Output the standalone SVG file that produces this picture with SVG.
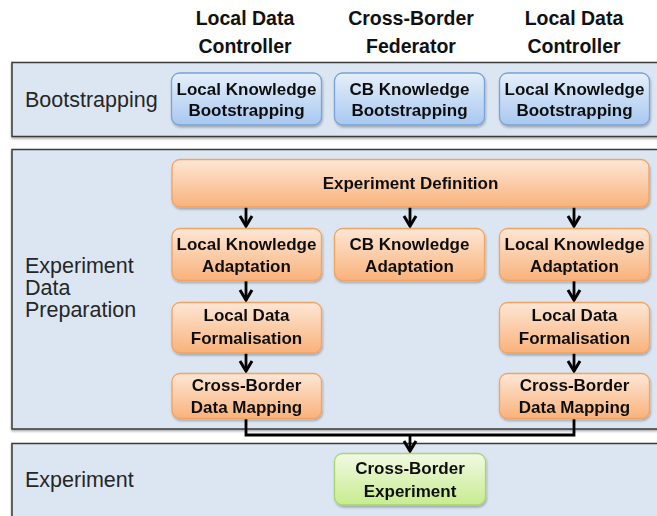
<svg xmlns="http://www.w3.org/2000/svg" width="657" height="516" viewBox="0 0 657 516">
  <defs>
    <linearGradient id="gBlue" x1="0" y1="0" x2="0" y2="1">
      <stop offset="0" stop-color="#e6effb"/>
      <stop offset="1" stop-color="#a8c8f0"/>
    </linearGradient>
    <linearGradient id="gOrange" x1="0" y1="0" x2="0" y2="1">
      <stop offset="0" stop-color="#fde7d6"/>
      <stop offset="1" stop-color="#f9b27b"/>
    </linearGradient>
    <linearGradient id="gGreen" x1="0" y1="0" x2="0" y2="1">
      <stop offset="0" stop-color="#f1f9e3"/>
      <stop offset="1" stop-color="#c7ec8e"/>
    </linearGradient>
    <filter id="shadow" x="-10%" y="-20%" width="120%" height="150%">
      <feDropShadow dx="0.8" dy="1.8" stdDeviation="1.2" flood-color="#000" flood-opacity="0.28"/>
    </filter>
    <filter id="bandShadow" x="-5%" y="-10%" width="110%" height="130%">
      <feDropShadow dx="0" dy="1.5" stdDeviation="0.8" flood-color="#000" flood-opacity="0.35"/>
    </filter>
    <marker id="arrow" markerUnits="userSpaceOnUse" viewBox="-14 -9 16 18" markerWidth="16" markerHeight="18" refX="0" refY="0" orient="auto" overflow="visible">
      <path d="M-10,-6 L0,0 L-10,6" fill="none" stroke="#000" stroke-width="3" stroke-linejoin="miter"/>
    </marker>
    <style>
      .band { fill: #dce6f2; stroke: #3a3a3a; stroke-width: 1.5; }
      .hdr { font-family: "Liberation Sans", Arial, sans-serif; font-weight: bold; font-size: 19.5px; fill: #111; text-anchor: middle; }
      .blabel { font-family: "Liberation Sans", Arial, sans-serif; font-size: 21.5px; fill: #262626; }
      .bt { font-family: "Liberation Sans", Arial, sans-serif; font-weight: bold; font-size: 17px; fill: #111; text-anchor: middle; }
      .blue { fill: url(#gBlue); stroke: #78a2d8; stroke-width: 1.3; }
      .orange { fill: url(#gOrange); stroke: #f3a25f; stroke-width: 1.3; }
      .green { fill: url(#gGreen); stroke: #a7d56e; stroke-width: 1.3; }
      .conn { fill: none; stroke: #000; stroke-width: 2.8; }
    </style>
  </defs>

  <rect x="0" y="0" width="657" height="516" fill="#ffffff"/>

  <!-- Column headers -->
  <g id="headers">
    <text class="hdr" x="245" y="25">Local Data</text>
    <text class="hdr" x="245" y="52.5">Controller</text>
    <text class="hdr" x="411" y="25">Cross-Border</text>
    <text class="hdr" x="411" y="52.5">Federator</text>
    <text class="hdr" x="574" y="25">Local Data</text>
    <text class="hdr" x="574" y="52.5">Controller</text>
  </g>

  <!-- Bands -->
  <g id="band-bootstrapping">
    <rect class="band" x="12" y="62.5" width="660" height="74" filter="url(#bandShadow)"/>
    <text class="blabel" x="25" y="106.5">Bootstrapping</text>
  </g>
  <g id="band-preparation">
    <rect class="band" x="12" y="149.5" width="660" height="279.5" filter="url(#bandShadow)"/>
    <text class="blabel" x="25" y="272.5">Experiment</text>
    <text class="blabel" x="25" y="294.5">Data</text>
    <text class="blabel" x="25" y="316.5">Preparation</text>
  </g>
  <g id="band-experiment">
    <rect class="band" x="12" y="443.5" width="660" height="90" filter="url(#bandShadow)"/>
    <text class="blabel" x="25" y="487">Experiment</text>
  </g>

  <!-- Connectors -->
  <g id="connectors">
    <line class="conn" x1="246" y1="207" x2="246" y2="226" marker-end="url(#arrow)"/>
    <line class="conn" x1="410" y1="207" x2="410" y2="226" marker-end="url(#arrow)"/>
    <line class="conn" x1="574" y1="207" x2="574" y2="226" marker-end="url(#arrow)"/>
    <line class="conn" x1="246" y1="280.5" x2="246" y2="300" marker-end="url(#arrow)"/>
    <line class="conn" x1="574" y1="280.5" x2="574" y2="300" marker-end="url(#arrow)"/>
    <line class="conn" x1="246" y1="353" x2="246" y2="371" marker-end="url(#arrow)"/>
    <line class="conn" x1="574" y1="353" x2="574" y2="371" marker-end="url(#arrow)"/>
    <path class="conn" d="M246,418.5 V435 H574 V418.5"/>
    <line class="conn" x1="410" y1="435" x2="410" y2="451" marker-end="url(#arrow)"/>
  </g>

  <!-- Bootstrapping nodes -->
  <g id="node-lkb-left" filter="url(#shadow)">
    <rect class="blue" x="171.5" y="73" width="150" height="52" rx="8"/>
    <text class="bt" x="246.5" y="94.5">Local Knowledge</text>
    <text class="bt" x="246.5" y="116">Bootstrapping</text>
  </g>
  <g id="node-cbkb" filter="url(#shadow)">
    <rect class="blue" x="334.5" y="73" width="150" height="52" rx="8"/>
    <text class="bt" x="409.5" y="94.5">CB Knowledge</text>
    <text class="bt" x="409.5" y="116">Bootstrapping</text>
  </g>
  <g id="node-lkb-right" filter="url(#shadow)">
    <rect class="blue" x="499.5" y="73" width="150" height="52" rx="8"/>
    <text class="bt" x="574.5" y="94.5">Local Knowledge</text>
    <text class="bt" x="574.5" y="116">Bootstrapping</text>
  </g>

  <!-- Experiment Definition -->
  <g id="node-expdef" filter="url(#shadow)">
    <rect class="orange" x="172" y="159.5" width="477" height="47.5" rx="8"/>
    <text class="bt" x="410.5" y="188.5">Experiment Definition</text>
  </g>

  <!-- Adaptation row -->
  <g id="node-lka-left" filter="url(#shadow)">
    <rect class="orange" x="172" y="228.5" width="149.5" height="52" rx="8"/>
    <text class="bt" x="246.5" y="249.5">Local Knowledge</text>
    <text class="bt" x="246.5" y="271.5">Adaptation</text>
  </g>
  <g id="node-cbka" filter="url(#shadow)">
    <rect class="orange" x="334.5" y="228.5" width="150" height="52" rx="8"/>
    <text class="bt" x="409.5" y="249.5">CB Knowledge</text>
    <text class="bt" x="409.5" y="271.5">Adaptation</text>
  </g>
  <g id="node-lka-right" filter="url(#shadow)">
    <rect class="orange" x="499.5" y="228.5" width="150" height="52" rx="8"/>
    <text class="bt" x="574.5" y="249.5">Local Knowledge</text>
    <text class="bt" x="574.5" y="271.5">Adaptation</text>
  </g>

  <!-- Formalisation row -->
  <g id="node-ldf-left" filter="url(#shadow)">
    <rect class="orange" x="172" y="302.5" width="149.5" height="50.5" rx="8"/>
    <text class="bt" x="246.5" y="321">Local Data</text>
    <text class="bt" x="246.5" y="343.5">Formalisation</text>
  </g>
  <g id="node-ldf-right" filter="url(#shadow)">
    <rect class="orange" x="499.5" y="302.5" width="150" height="50.5" rx="8"/>
    <text class="bt" x="574.5" y="321">Local Data</text>
    <text class="bt" x="574.5" y="343.5">Formalisation</text>
  </g>

  <!-- Mapping row -->
  <g id="node-cbdm-left" filter="url(#shadow)">
    <rect class="orange" x="172" y="373.5" width="149.5" height="45" rx="8"/>
    <text class="bt" x="246.5" y="390.5">Cross-Border</text>
    <text class="bt" x="246.5" y="413">Data Mapping</text>
  </g>
  <g id="node-cbdm-right" filter="url(#shadow)">
    <rect class="orange" x="499.5" y="373.5" width="150" height="45" rx="8"/>
    <text class="bt" x="574.5" y="390.5">Cross-Border</text>
    <text class="bt" x="574.5" y="413">Data Mapping</text>
  </g>

  <!-- Experiment -->
  <g id="node-cbexp" filter="url(#shadow)">
    <rect class="green" x="334.5" y="453.5" width="151" height="51.5" rx="8"/>
    <text class="bt" x="410" y="474">Cross-Border</text>
    <text class="bt" x="410" y="497">Experiment</text>
  </g>
</svg>
